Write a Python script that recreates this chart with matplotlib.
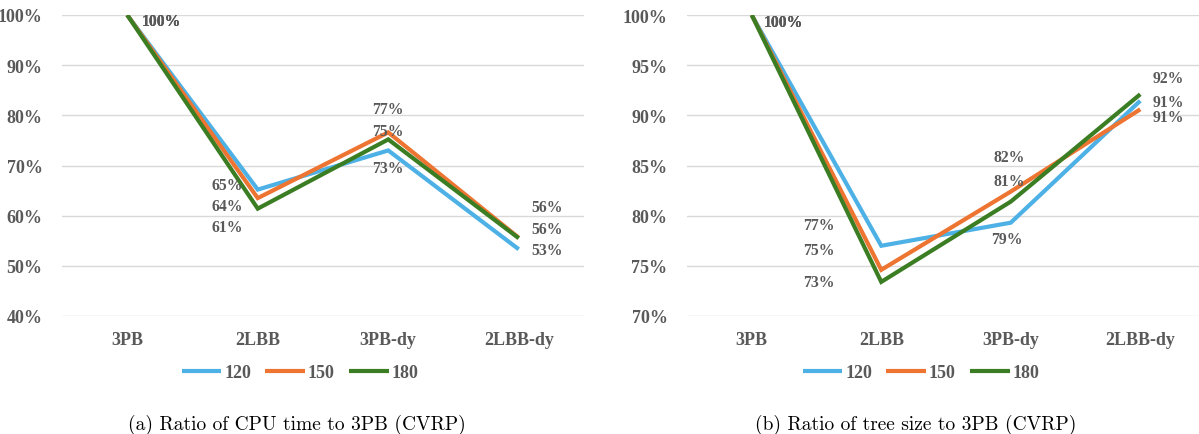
import matplotlib.pyplot as plt
from matplotlib.ticker import PercentFormatter

# categories and series (ratio to 3PB, in %)
categories = ["3PB", "2LBB", "3PB-dy", "2LBB-dy"]
series_names = ["120", "150", "180"]

cpu_120 = [100, 65.2, 73.0, 53.3]
cpu_150 = [100, 63.5, 76.6, 55.6]
cpu_180 = [100, 61.4, 75.2, 55.5]

tree_120 = [100, 77.0, 79.3, 91.45]
tree_150 = [100, 74.6, 82.4, 90.6]
tree_180 = [100, 73.4, 81.4, 92.1]

colors = ["#4DB1E6", "#ED7431", "#3B7D23"]
label_color = "#595959"
serif = "Liberation Serif"

# data label offsets in pixels (dx, dy) per series and category, dy positive = down
cpu_offsets = [
    [(34, 6), (-30, -5), (0, 18), (28, 1)],
    [(34, 6), (-30, 8), (0, -23), (28, -31)],
    [(34, 6), (-30, 18), (0, -8), (28, -9)],
]
tree_offsets = [
    [(32, 7), (-62, -21), (-4, 16), (28, 1)],
    [(32, 7), (-62, -20), (-2, -35), (28, 8)],
    [(32, 7), (-62, 0), (-2, -21), (28, -16)],
]

fig = plt.figure(figsize=(11.99, 4.35), dpi=100)
W, H = 1199, 435


def draw(ax, data, offsets, ylim, step):
    x = range(len(categories))
    for vals, col, offs in zip(data, colors, offsets):
        ax.plot(x, vals, color=col, lw=3, solid_capstyle="butt", solid_joinstyle="miter")
        for xi, v, (dx, dy) in zip(x, vals, offs):
            ax.annotate(f"{round(v):d}%", (xi, v), xytext=(dx, -dy), textcoords="offset pixels",
                        ha="center", va="center", fontsize=11.3, fontweight="bold",
                        family=serif, color=label_color, annotation_clip=False)
    ax.set_xlim(-0.5, len(categories) - 0.5)
    ax.set_ylim(*ylim)
    ax.set_yticks([ylim[0] + i * step for i in range(int((ylim[1] - ylim[0]) / step) + 1)])
    ax.yaxis.set_major_formatter(PercentFormatter(decimals=0))
    ax.set_xticks(list(x))
    ax.set_xticklabels(categories)
    for lab in ax.get_xticklabels() + ax.get_yticklabels():
        lab.set_family(serif)
        lab.set_fontweight("bold")
        lab.set_color(label_color)
        lab.set_fontsize(13)
    ax.tick_params(axis="y", length=0, pad=14)
    ax.tick_params(axis="x", length=0, pad=11)
    ax.grid(axis="y", color="#D9D9D9", lw=1)
    ax.set_axisbelow(True)
    for s in ax.spines.values():
        s.set_visible(False)


ax1 = fig.add_axes([62 / W, 1 - 317 / H, 522 / W, 301 / H])
draw(ax1, [cpu_120, cpu_150, cpu_180], cpu_offsets, (40, 100), 10)

ax2 = fig.add_axes([687 / W, 1 - 317 / H, 518 / W, 301 / H])
draw(ax2, [tree_120, tree_150, tree_180], tree_offsets, (70, 100), 5)

handles = ax1.get_lines()[:3]
for cx in (300, 921):
    leg = fig.legend(handles, series_names, loc="center", bbox_to_anchor=(cx / W, 1 - 374 / H),
                     ncol=3, frameon=False, handlelength=2.2, handletextpad=0.15,
                     columnspacing=0.8, prop={"family": serif, "weight": "bold", "size": 13})
    for t in leg.get_texts():
        t.set_color(label_color)

fig.text(297 / W, 1 - 425 / H, "(a) Ratio of CPU time to 3PB (CVRP)", ha="center", va="center",
         family="cmr10", fontsize=14)
fig.text(916 / W, 1 - 425 / H, "(b) Ratio of tree size to 3PB (CVRP)", ha="center", va="center",
         family="cmr10", fontsize=14)

fig.savefig("out.png", dpi=100)
